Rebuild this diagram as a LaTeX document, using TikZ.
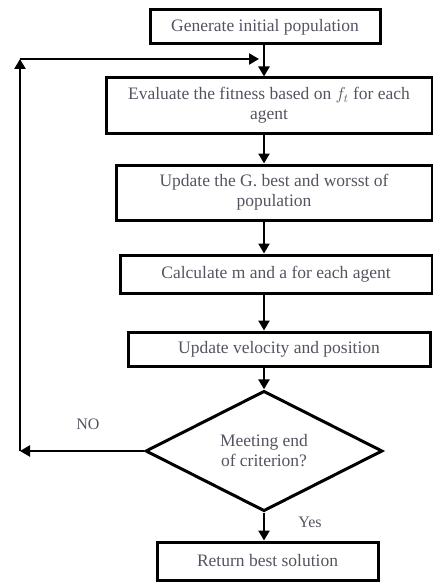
\documentclass[tikz,border=0pt]{standalone}
\usepackage{fontspec}
\setmainfont{Liberation Serif}
\usetikzlibrary{shapes.geometric,arrows.meta}
\definecolor{txt}{rgb}{0.33,0.33,0.38}
\begin{document}
\begin{tikzpicture}[x=1pt,y=-1pt,
  box/.style={draw=black,line width=3pt,minimum width=#1,inner sep=0pt,align=center,font=\fontsize{17.5}{20}\selectfont,text=txt},
  arr/.style={line width=2.8pt,-{Triangle[length=10pt,width=11pt]}},
  lbl/.style={font=\fontsize{16}{18}\selectfont,text=txt}]
\useasboundingbox (0,0) rectangle (433,583);
\node[box=230pt,minimum height=34pt] (b1) at (265,27) {Generate initial population};
\node[box=326pt,minimum height=55pt] (b2) at (269,105.5) {Evaluate the fitness based on $f_t$ for each\\agent};
\node[box=316pt,minimum height=55pt] (b3) at (274,192.5) {Update the G. best and worsst of\\population};
\node[box=312pt,minimum height=38pt] (b4) at (276,274) {Calculate m and a for each agent};
\node[box=302pt,minimum height=34pt] (b5) at (279,349) {Update velocity and position};
\node[draw=black,line width=3pt,diamond,minimum width=237pt,minimum height=98pt,inner sep=0pt,align=center,font=\fontsize{17.5}{20}\selectfont,text=txt] (d) at (264,451) {Meeting end\\of criterion?};
\node[box=221pt,minimum height=38pt] (b6) at (267.5,561) {Return best solution};
\coordinate (sp) at (264,0);
\coordinate (c1) at (20,451);
\coordinate (c2) at (20,59);
\coordinate (c3) at (259,59);
\draw[arr] (b1.south -| sp) -- (b2.north -| sp);
\draw[arr] (b2.south -| sp) -- (b3.north -| sp);
\draw[arr] (b3.south -| sp) -- (b4.north -| sp);
\draw[arr] (b4.south -| sp) -- (b5.north -| sp);
\draw[arr] (b5.south -| sp) -- (d.north);
\draw[arr] (d.south) -- (b6.north -| sp);
\draw[arr] (d.west) -- (c1);
\draw[arr] (c1) -- (c2);
\draw[arr] (c2) -- (c3);
\node[lbl] (no) at (88,424) {NO};
\node[lbl] (yes) at (310,522) {Yes};
\end{tikzpicture}
\end{document}
